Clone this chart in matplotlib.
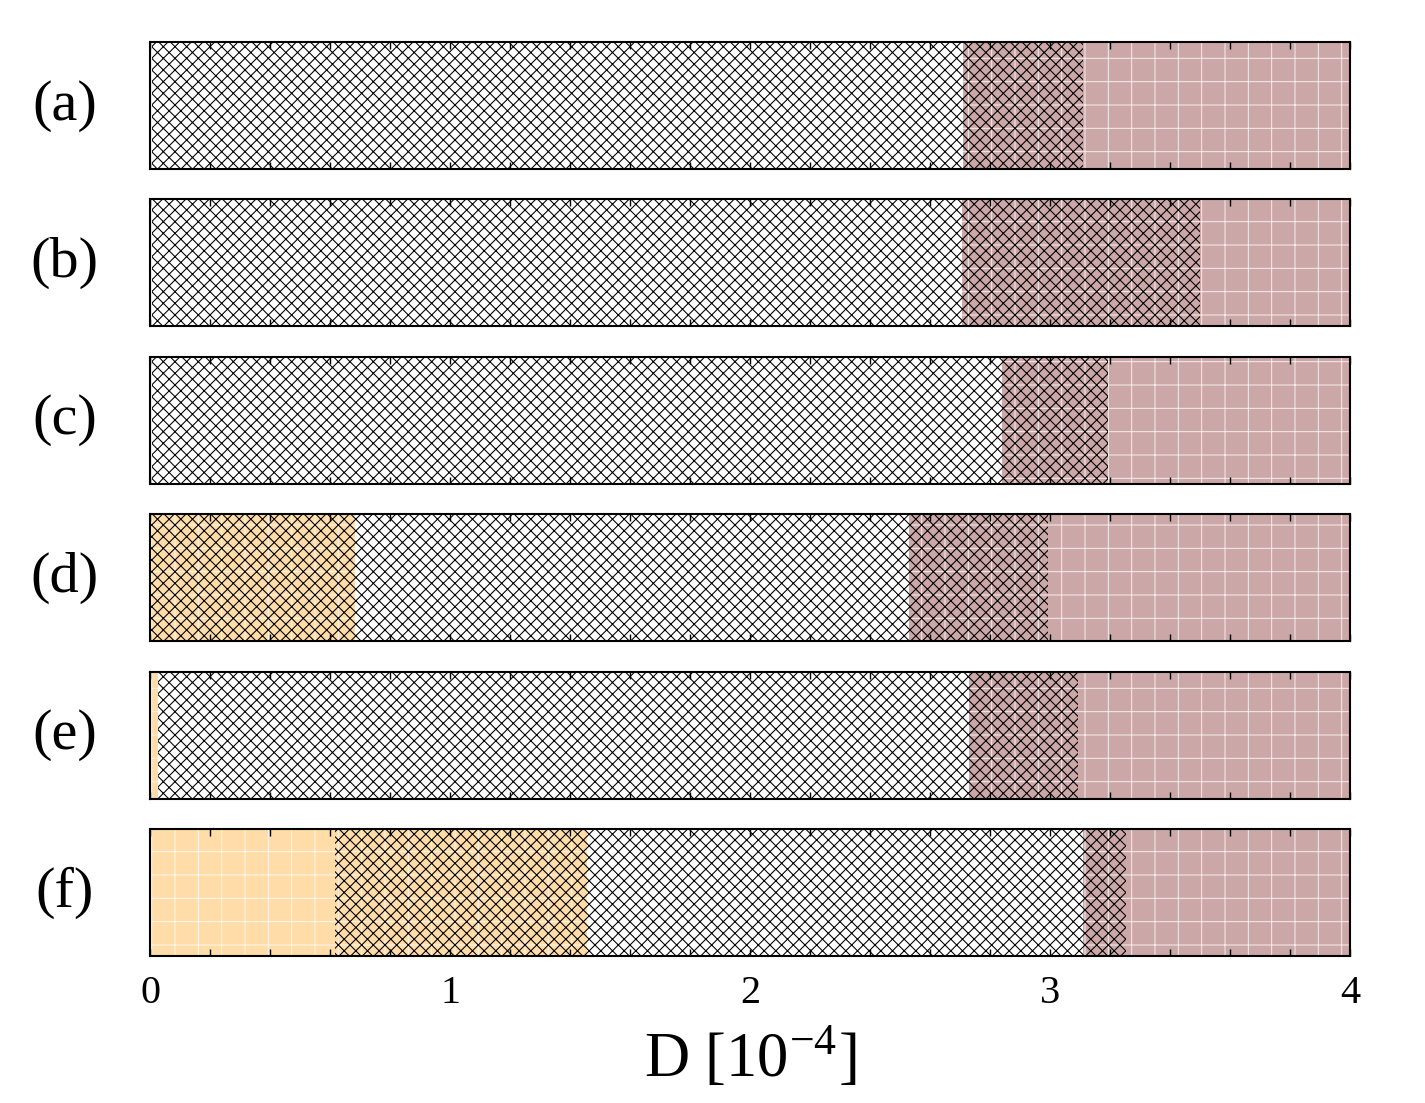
import numpy as np
import matplotlib
matplotlib.use("Agg")
import matplotlib.pyplot as plt
from matplotlib.ticker import MultipleLocator

DPI = 140
S = 100 / DPI   # font sizes below were judged at 100 dpi

plt.rcParams["font.family"] = ["Liberation Serif", "DejaVu Serif"]
plt.rcParams["mathtext.fontset"] = "stix"

# one row per panel (a)-(f), values in units of 1e-4
panel_labels = ["(a)", "(b)", "(c)", "(d)", "(e)", "(f)"]
orange_end  = [0.005, 0.005, 0.005, 0.683, 0.027, 1.457]
pink_start  = [2.71, 2.707, 2.84, 2.53, 2.73, 3.11]
hatch_start = [0.005, 0.005, 0.005, 0.0, 0.027, 0.617]
hatch_end   = [3.11, 3.50, 3.193, 2.993, 3.093, 3.253]
x_max = 4.0

ORANGE = "#FFDCA8"
PINK   = "#CBA7A7"

W, H = 1425, 1103
fig = plt.figure(figsize=(W / DPI, H / DPI), dpi=DPI)

left_px, right_px = 150, 1350
top0, pitch, h_px = 42, 157.4, 127

axes = []
for i, lab in enumerate(panel_labels):
    top = top0 + i * pitch
    ax = fig.add_axes([left_px / W, 1 - (top + h_px) / H,
                       (right_px - left_px) / W, h_px / H])
    axes.append(ax)

    # coloured backgrounds with faint white grid
    plt.rcParams["hatch.linewidth"] = 0.5
    ax.barh(0, orange_end[i], left=0, height=1, color=ORANGE,
            edgecolor=(1, 1, 1, 0.8), hatch="+", linewidth=0, zorder=1)
    ax.barh(0, x_max - pink_start[i], left=pink_start[i], height=1,
            color=PINK, edgecolor=(1, 1, 1, 0.8), hatch="+", linewidth=0,
            zorder=1)
    # cross-hatched interval
    plt.rcParams["hatch.linewidth"] = 0.55
    ax.barh(0, hatch_end[i] - hatch_start[i], left=hatch_start[i], height=1,
            color="none", edgecolor="black", hatch="xxxx", linewidth=0,
            zorder=2)

    ax.set_xlim(0, x_max)
    ax.set_ylim(-0.5, 0.5)
    ax.set_yticks([])
    ax.xaxis.set_major_locator(MultipleLocator(1))
    ax.xaxis.set_minor_locator(MultipleLocator(0.2))
    ax.tick_params(axis="x", which="both", direction="in", top=True,
                   bottom=True, length=5 * S, width=1.0 * S,
                   labelsize=29 * S, pad=14 * S)
    for sp in ax.spines.values():
        sp.set_linewidth(1.5 * S)
        sp.set_zorder(5)
    if i < len(panel_labels) - 1:
        ax.tick_params(axis="x", labelbottom=False)

    ax.text(-0.071, 0.5, lab, transform=ax.transAxes, ha="center",
            va="center", fontsize=42 * S)

axes[-1].set_xlabel(r"D [10$^{\mathregular{-4}}$]", fontsize=45 * S,
                    labelpad=10 * S)

fig.savefig("out.png", dpi=DPI)
